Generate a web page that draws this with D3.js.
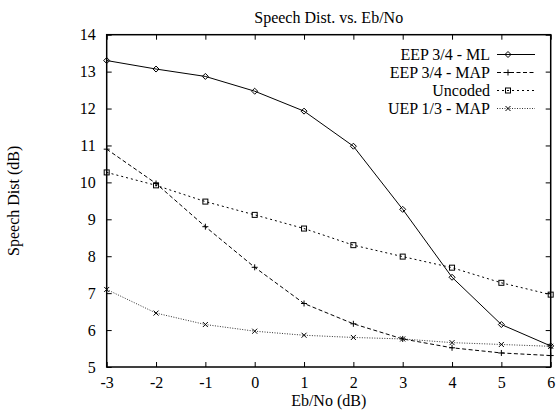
<!DOCTYPE html>
<html><head><meta charset="utf-8">
<script src="https://cdn.jsdelivr.net/npm/d3@7"></script>
<style>body{margin:0;background:#fff}svg{display:block}text{font-family:"Liberation Serif","Times New Roman",serif;fill:#000}</style>
</head><body>
<script>
const ebno = [-3,-2,-1,0,1,2,3,4,5,6];
const eepML  = [13.30,13.07,12.87,12.47,11.93,10.98,9.27,7.43,6.15,5.57];
const eepMAP = [10.90,9.97,8.80,7.70,6.72,6.17,5.76,5.52,5.38,5.31];
const uncoded= [10.27,9.92,9.48,9.12,8.75,8.30,7.99,7.69,7.28,6.96];
const uepMAP = [7.10,6.46,6.15,5.97,5.86,5.80,5.76,5.66,5.61,5.56];
const xTicks = [-3,-2,-1,0,1,2,3,4,5,6];
const yTicks = [5,6,7,8,9,10,11,12,13,14];
const seriesNames = ["EEP 3/4 - ML","EEP 3/4 - MAP","Uncoded","UEP 1/3 - MAP"];

const W=557,H=410;
const m={l:106.7,r:6.3,t:34.7,b:43};
const svg=d3.select("body").append("svg").attr("width",W).attr("height",H);
const x=d3.scaleLinear().domain([-3,6]).range([m.l,W-m.r]);
const y=d3.scaleLinear().domain([5,14]).range([H-m.b,m.t]);
const FF='"Liberation Serif","Times New Roman",serif';

const series=[
 {name:seriesNames[0],vals:eepML,dash:null,color:"#000",marker:"diamond"},
 {name:seriesNames[1],vals:eepMAP,dash:"4,2.5",color:"#000",marker:"plus"},
 {name:seriesNames[2],vals:uncoded,dash:"2,3",color:"#000",marker:"square"},
 {name:seriesNames[3],vals:uepMAP,dash:"1,1.5",color:"#333",marker:"cross"}
];

const fmt=d=>String(d);
const tl=5;
svg.append("g").attr("transform",`translate(0,${H-m.b})`)
 .call(d3.axisBottom(x).tickValues(xTicks).tickSize(-tl).tickPadding(10).tickFormat(fmt))
 .call(g=>{g.attr("font-family",FF);g.select(".domain").remove();g.selectAll("text").attr("font-size",16).attr("dy","0.71em");});
svg.append("g").attr("transform",`translate(0,${m.t})`)
 .call(d3.axisTop(x).tickValues(xTicks).tickSize(-tl).tickFormat(""))
 .call(g=>g.select(".domain").remove());
svg.append("g").attr("transform",`translate(${m.l},0)`)
 .call(d3.axisLeft(y).tickValues(yTicks).tickSize(-tl).tickPadding(11).tickFormat(fmt))
 .call(g=>{g.attr("font-family",FF);g.select(".domain").remove();g.selectAll("text").attr("font-size",16);});
svg.append("g").attr("transform",`translate(${W-m.r},0)`)
 .call(d3.axisRight(y).tickValues(yTicks).tickSize(-tl).tickFormat(""))
 .call(g=>g.select(".domain").remove());
svg.selectAll(".tick line").attr("stroke","#000");

svg.append("rect").attr("x",m.l).attr("y",m.t).attr("width",W-m.r-m.l).attr("height",H-m.b-m.t)
 .attr("fill","none").attr("stroke","#000").attr("stroke-width",1.5);

function drawMarker(g,type,cx,cy,color){
 if(type==="diamond"){
  g.append("path").attr("d",`M${cx},${cy-3}L${cx+3},${cy}L${cx},${cy+3}L${cx-3},${cy}Z`).attr("fill","none").attr("stroke",color).attr("stroke-width",1);
 } else if(type==="plus"){
  g.append("path").attr("d",`M${cx-3},${cy}H${cx+3}M${cx},${cy-3}V${cy+3}`).attr("stroke",color).attr("stroke-width",1);
 } else if(type==="square"){
  g.append("rect").attr("x",cx-2.5).attr("y",cy-2.5).attr("width",5).attr("height",5).attr("fill","none").attr("stroke",color).attr("stroke-width",1);
 } else {
  g.append("path").attr("d",`M${cx-2.5},${cy-2.5}L${cx+2.5},${cy+2.5}M${cx-2.5},${cy+2.5}L${cx+2.5},${cy-2.5}`).attr("stroke","#000").attr("stroke-width",1);
 }
}

const line=d3.line().x((d,i)=>x(ebno[i])).y(d=>y(d));
series.forEach(s=>{
 const g=svg.append("g");
 g.append("path").attr("d",line(s.vals)).attr("fill","none").attr("stroke",s.color).attr("stroke-width",1)
  .attr("stroke-dasharray",s.dash);
 s.vals.forEach((v,i)=>drawMarker(g,s.marker,x(ebno[i]),y(v),s.color));
});

const lg=svg.append("g");
series.forEach((s,i)=>{
 const ly=54.5+i*18;
 lg.append("text").attr("x",490).attr("y",ly).attr("dy","0.35em").attr("text-anchor","end").attr("font-size",16).text(s.name);
 lg.append("line").attr("x1",497).attr("x2",535).attr("y1",ly).attr("y2",ly).attr("stroke",s.color).attr("stroke-width",1).attr("stroke-dasharray",s.dash);
 drawMarker(lg,s.marker,508,ly,s.color);
});

svg.append("text").attr("x",(m.l+W-m.r)/2).attr("y",23).attr("text-anchor","middle").attr("font-size",16).text("Speech Dist. vs. Eb/No");
svg.append("text").attr("x",(m.l+W-m.r)/2).attr("y",406).attr("text-anchor","middle").attr("font-size",16).text("Eb/No (dB)");
svg.append("text").attr("transform",`translate(19,${(m.t+H-m.b)/2}) rotate(-90)`).attr("text-anchor","middle").attr("font-size",16).text("Speech Dist (dB)");
</script>
</body></html>
